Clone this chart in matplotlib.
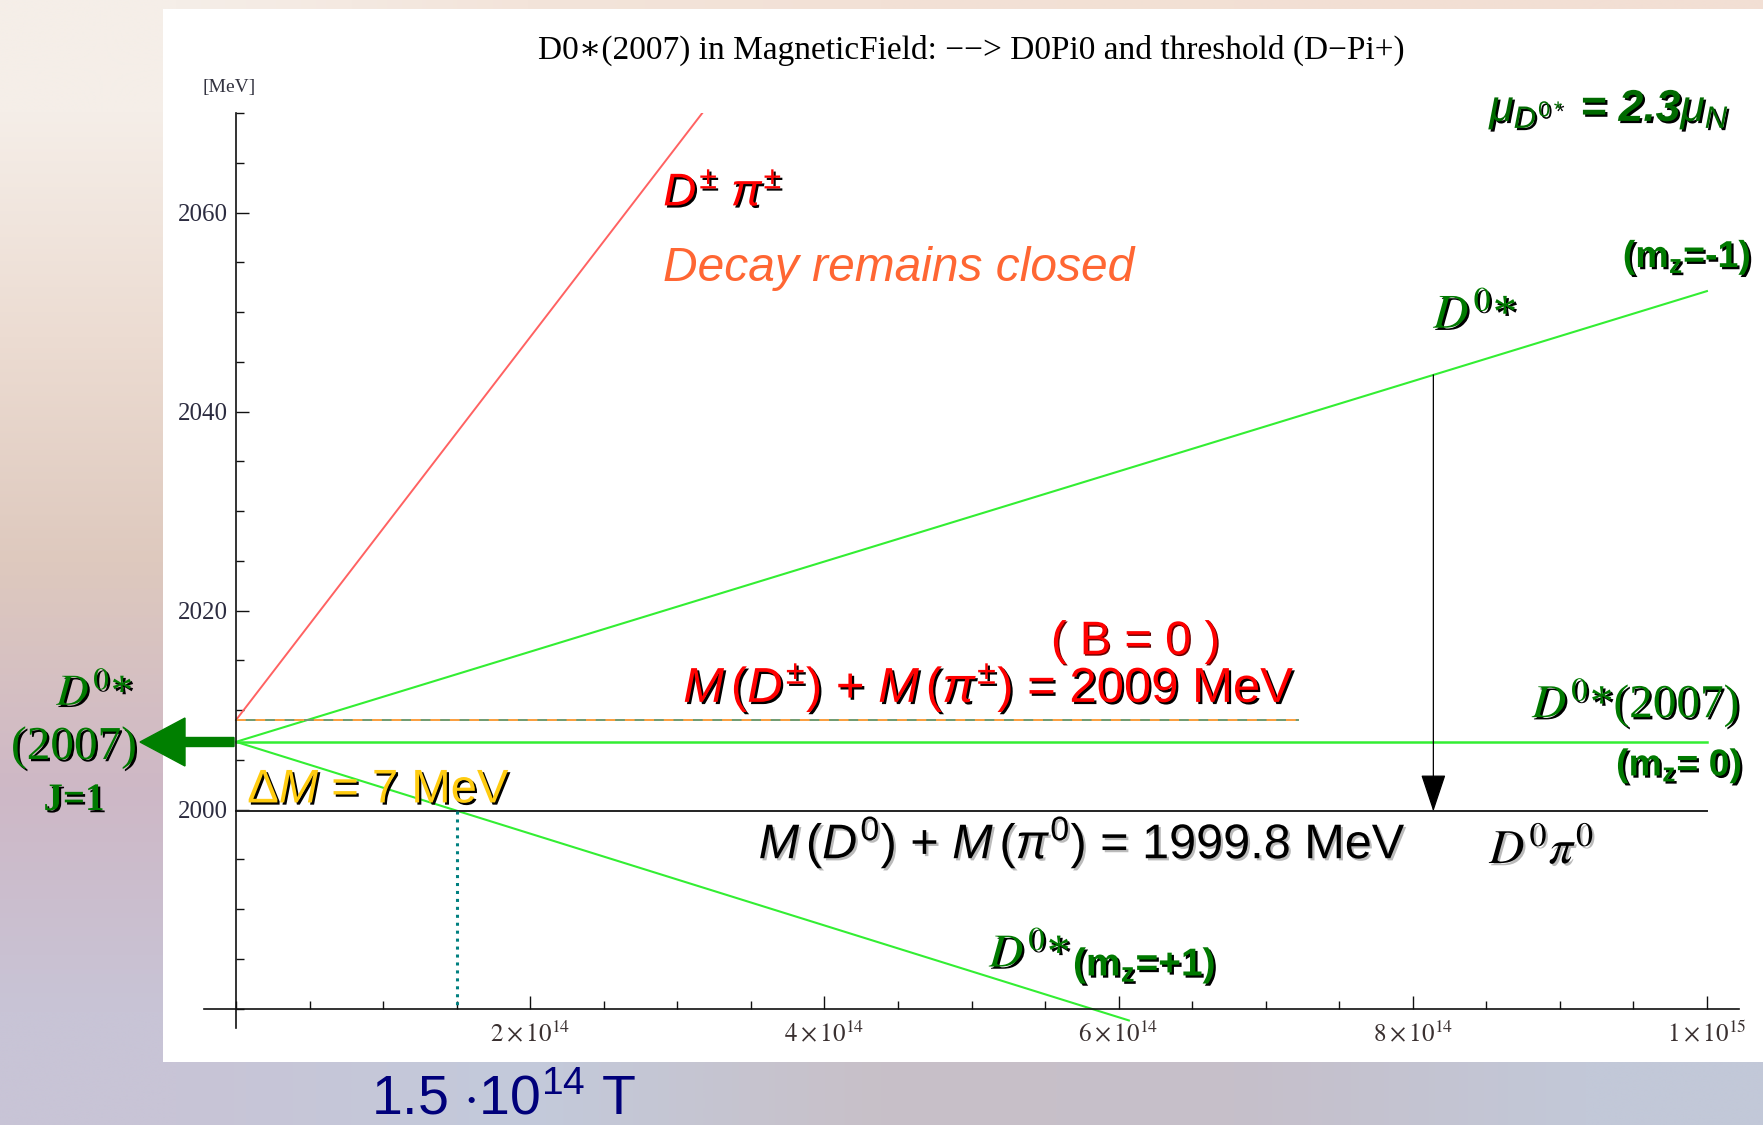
import numpy as np
import matplotlib
matplotlib.use('Agg')
import matplotlib.pyplot as plt
import matplotlib.patheffects as pe
from matplotlib.patches import Rectangle, FancyArrow
from matplotlib.ticker import MultipleLocator

# Zeeman splitting of D0*(2007) vs. magnetic field, thresholds D0 pi0 and D+- pi+-
# field [T], mass [MeV]
b_charged = [0.0, 3.17e14]
m_charged = [2009.0, 2070.0]

b_full = [0.0, 1.0e15]
m_mz_minus = [2006.8, 2052.1]
m_mz_zero = [2006.8, 2006.8]

b_mz_plus = [0.0, 6.07e14]
m_mz_plus = [2006.8, 1978.8]

b_threshold = [0.0, 7.22e14]
m_threshold = [2009.0, 2009.0]
m_neutral = [1999.8, 1999.8]

b_cross = 1.5e14        # m_z=+1 level drops below D0 pi0
b_drop = 8.14e14        # decay arrow position

y_major = [2000, 2020, 2040, 2060]
x_major = [2e14, 4e14, 6e14, 8e14, 1e15]
x_labels = [r'$2\times10^{14}$', r'$4\times10^{14}$', r'$6\times10^{14}$',
            r'$8\times10^{14}$', r'$1\times10^{15}$']

W, H = 1763, 1125
GREEN = '#007a00'
LIME = '#33ee33'

plt.rcParams['mathtext.fontset'] = 'custom'
plt.rcParams['mathtext.rm'] = 'Liberation Sans'
plt.rcParams['mathtext.it'] = 'Liberation Sans:italic'
plt.rcParams['mathtext.bf'] = 'Liberation Sans:bold'
plt.rcParams['font.family'] = ['Liberation Sans', 'DejaVu Sans']


def fpos(x, y):
    """pixel position (from top left) -> figure fraction"""
    return x / W, 1 - y / H


def shadow(color='black', dx=1.6, dy=-1.6):
    return [pe.withSimplePatchShadow(offset=(dx, dy), shadow_rgbFace=color, alpha=1.0)]


fig = plt.figure(figsize=(W / 100, H / 100), dpi=100)

# slide background
bg = fig.add_axes([0, 0, 1, 1], zorder=-10)
bg_hex = [
    ['#f5eee8', '#f3e4da', '#f2e1d6', '#f2e0d4', '#f2dfd4'],
    ['#ecdcd2', '#eadad0', '#e8d8ce', '#e8d8ce', '#e8d8ce'],
    ['#dec9be', '#dcc8be', '#dac6c0', '#dac6c0', '#dac6c0'],
    ['#ceb8c6', '#ccbcca', '#ccbecc', '#ccbecc', '#ccbecc'],
    ['#c8c4d6', '#c3cadb', '#c8c0c8', '#c6bfca', '#c2c8d8'],
]
bg_rgb = np.array([[matplotlib.colors.to_rgb(c) for c in row] for row in bg_hex])
bg.imshow(bg_rgb, extent=[0, 1, 0, 1], aspect='auto', interpolation='bilinear')
bg.axis('off')

x0, y0 = fpos(163, 1062)
fig.add_artist(Rectangle((x0, y0), 1 - x0, (1062 - 9) / H, transform=fig.transFigure,
                         facecolor='white', edgecolor='none', zorder=-5))

# plot area
left, top = fpos(204, 113)
right, bottom = fpos(1739, 1028.4)
ax = fig.add_axes([left, bottom, right - left, top - bottom])
ax.set_facecolor('none')
ax.set_xlim(-2.18e13, 1.0218e15)
ax.set_ylim(1978, 2070)

ax.spines['left'].set_position(('data', 0))
ax.spines['bottom'].set_position(('data', 1980))
ax.spines['top'].set_visible(False)
ax.spines['right'].set_visible(False)
for s in ('left', 'bottom'):
    ax.spines[s].set_linewidth(1.2)
    ax.spines[s].set_color('#111111')

ax.set_yticks(y_major)
ax.set_yticklabels([str(v) for v in y_major], family='Liberation Serif',
                   fontsize=18, color='#2c2c40')
ax.yaxis.set_minor_locator(MultipleLocator(5))
ax.set_xticks(x_major)
ax.set_xticklabels(x_labels, fontsize=18, color='#3a3030', math_fontfamily='stix')
ax.xaxis.set_minor_locator(MultipleLocator(0.5e14))
ax.tick_params(which='major', direction='in', length=9.5, width=1.0, color='#111111')
ax.tick_params(which='minor', direction='in', length=6.0, width=1.0, color='#111111')
ax.tick_params(axis='y', which='major', pad=6)
ax.tick_params(axis='x', which='major', pad=9)

# levels
ax.plot(b_charged, m_charged, color='#ff6262', lw=1.4)
ax.plot(b_full, m_mz_minus, color=LIME, lw=1.5)
ax.plot(b_full, m_mz_zero, color=LIME, lw=1.8)
ax.plot(b_mz_plus, m_mz_plus, color=LIME, lw=1.5, clip_on=False)
ax.plot(b_threshold, m_threshold, color='#6f9a6f', lw=1.4)
ax.plot(b_threshold, m_threshold, color='#ffa040', lw=1.4, dashes=(5, 5))
ax.plot(b_full, m_neutral, color='#222222', lw=1.4)

ax.plot([b_cross, b_cross], [m_neutral[0], 1980], color='#008080', lw=2.2,
        linestyle=(0, (1, 1.6)))

m_top = m_mz_minus[0] + (m_mz_minus[1] - m_mz_minus[0]) * b_drop / b_full[1]
ax.annotate('', xy=(b_drop, m_neutral[0]), xytext=(b_drop, m_top),
            arrowprops=dict(arrowstyle='-|>,head_length=2.4,head_width=0.8',
                            mutation_scale=10, color='black', lw=0.9,
                            shrinkA=0, shrinkB=0))

# labels inside the plot
ax.text(1.016e15, 2069.2, r'$\mu_{D^{0*}}$ = 2.3$\mu_N$', ha='right', va='baseline',
        fontsize=32, color='#006a00', fontstyle='italic', fontweight='bold',
        path_effects=shadow())
ax.text(2.904e14, 2060.7, r'$D^{\pm}\ \pi^{\pm}$', ha='left', va='baseline',
        fontsize=33, color='#ff0000', fontweight='bold', path_effects=shadow())
ax.text(2.904e14, 2053.1, 'Decay remains closed', ha='left', va='baseline',
        fontsize=34.5, color='#ff6633', fontstyle='italic')
ax.text(1.030e15, 2054.5, r'(m$_\mathbf{z}$=-1)', ha='right', va='baseline',
        fontsize=27, color=GREEN, fontweight='bold', path_effects=shadow())
ax.text(8.14e14, 2048.4, r'$D^{0}$*', ha='left', va='baseline', fontsize=35,
        color=GREEN, family='Liberation Serif', math_fontfamily='stix',
        path_effects=shadow())
ax.text(5.54e14, 2015.6, '( B = 0 )', ha='left', va='baseline', fontsize=34,
        color='#ff0000', path_effects=shadow('#660000', 1.0, -1.0))
ax.text(3.04e14, 2010.8, r'$M\,(D^{\pm})$ + $M\,(\pi^{\pm})$ = 2009 MeV',
        ha='left', va='baseline', fontsize=35.3, color='#ff0000', path_effects=shadow())
ax.text(1.0224e15, 2009.26, r'$D^{0}$*(2007)', ha='right', va='baseline',
        fontsize=34, color=GREEN, family='Liberation Serif', math_fontfamily='stix',
        path_effects=shadow())
ax.text(1.024e15, 2003.4, r'(m$_\mathbf{z}$= 0)', ha='right', va='baseline',
        fontsize=27, color=GREEN, fontweight='bold', path_effects=shadow())
ax.text(7.6e12, 2000.7, r'$\Delta M$ = 7 MeV', ha='left', va='baseline',
        fontsize=34, color='#ffcc11', path_effects=shadow())
ax.text(3.553e14, 1995.1, r'$M\,(D^{0})$ + $M\,(\pi^{0})$ = 1999.8 MeV',
        ha='left', va='baseline', fontsize=35, color='black',
        path_effects=shadow('#bbbbbb'))
ax.text(8.52e14, 1994.6, r'$D^{0}\pi^{0}$', ha='left', va='baseline', fontsize=35,
        color='black', math_fontfamily='stix', path_effects=shadow('#bbbbbb'))
ax.text(5.12e14, 1984.2, r'$D^{0}$*', ha='left', va='baseline', fontsize=34,
        color=GREEN, family='Liberation Serif', math_fontfamily='stix',
        path_effects=shadow())
ax.text(5.69e14, 1983.3, r'(m$_\mathbf{z}$=+1)', ha='left', va='baseline',
        fontsize=28, color=GREEN, fontweight='bold', path_effects=shadow())

# title and unit
fig.text(*fpos(971, 58.5), 'D0\u2217(2007) in MagneticField: \u2212\u2212> D0Pi0 and threshold (D\u2212Pi+)',
         ha='center', va='baseline', fontsize=24, color='black',
         family=['Liberation Serif', 'DejaVu Serif'])
fig.text(*fpos(202, 92), '[MeV]', ha='left', va='baseline', fontsize=14,
         color='#333340', family='Liberation Serif')

# D0*(2007) state on the left margin
fig.text(*fpos(95, 705), r'$D^{0}$*', ha='center', va='baseline', fontsize=32,
         color=GREEN, family='Liberation Serif', math_fontfamily='stix',
         path_effects=shadow())
fig.text(*fpos(74, 759), '(2007)', ha='center', va='baseline', fontsize=34,
         color=GREEN, family='Liberation Serif', path_effects=shadow())
fig.text(*fpos(74, 810), 'J=1', ha='center', va='baseline', fontsize=28,
         color=GREEN, family='Liberation Serif', fontweight='bold',
         path_effects=shadow())
fig.add_artist(FancyArrow(2.34, (H - 742) / 100, -0.94, 0, width=0.09,
                          head_width=0.48, head_length=0.45,
                          length_includes_head=True, color='#007f00',
                          transform=fig.dpi_scale_trans))

fig.text(*fpos(371, 1114), r'1.5 $\cdot$10$^{14}$ T', ha='left', va='baseline',
         fontsize=40, color='#00007a')

fig.savefig('out.png', dpi=100)
